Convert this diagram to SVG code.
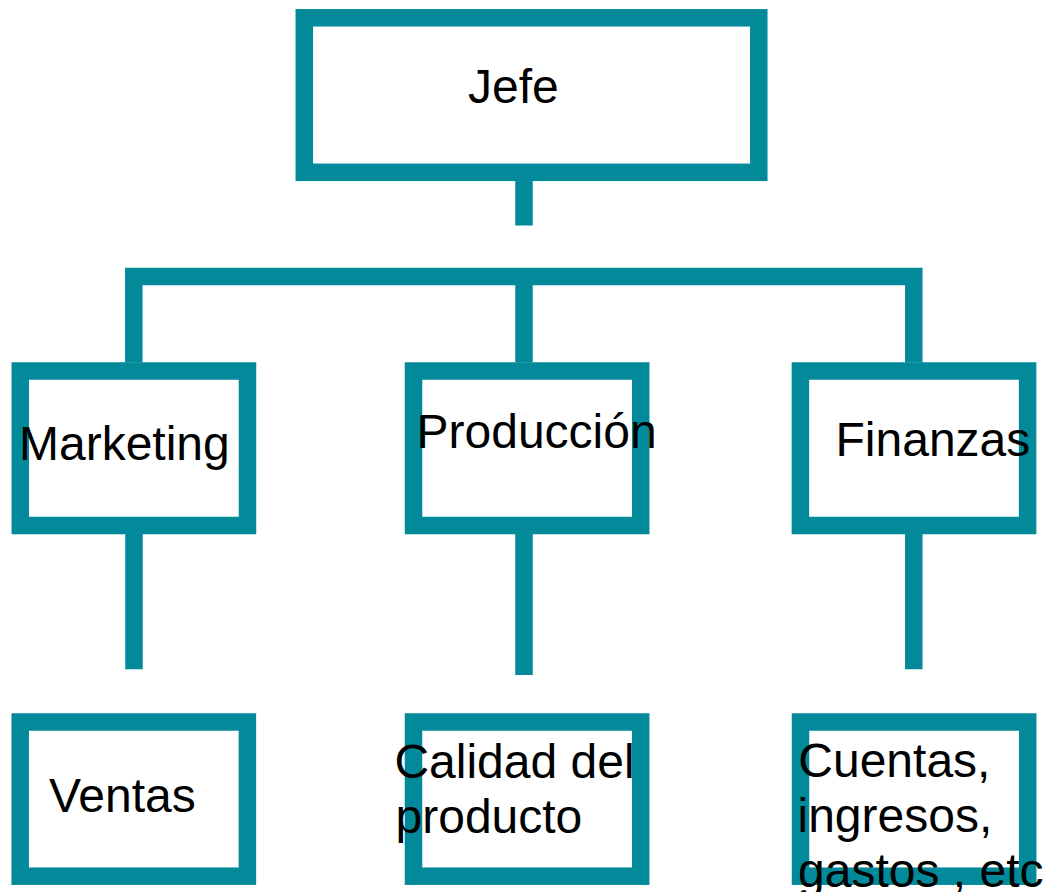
<svg xmlns="http://www.w3.org/2000/svg" width="1051" height="892" viewBox="0 0 1051 892">
<style>
.box{fill:#fff;stroke:#028A9B;stroke-width:17.5}
.con{fill:none;stroke:#028A9B;stroke-width:17.5;stroke-linejoin:miter;stroke-linecap:butt}
.t{font-family:"Liberation Sans",Arial,sans-serif;font-size:48px;fill:#000}
</style>
<rect width="1051" height="892" fill="#fff"/>
<g id="connectors">
<path class="con" d="M524,181 V225.5"/>
<path class="con" d="M133.8,362.5 V276.4 H913.8 V362.5"/>
<path class="con" d="M524,276.4 V362.5"/>
<path class="con" d="M134,534 V669.3"/>
<path class="con" d="M524,534 V675"/>
<path class="con" d="M913.8,534 V669.3"/>
</g>
<g id="jefe">
<rect class="box" x="304.3" y="17.8" width="454.5" height="154.5"/>
<text class="t" x="468" y="103">Jefe</text>
</g>
<g id="marketing">
<rect class="box" x="20.3" y="371" width="227.2" height="154.5"/>
<text class="t" x="19" y="460">Marketing</text>
</g>
<g id="produccion">
<rect class="box" x="413.5" y="371" width="227.2" height="154.5"/>
<text class="t" x="416.5" y="447.7">Producción</text>
</g>
<g id="finanzas">
<rect class="box" x="800.4" y="371" width="227.2" height="154.5"/>
<text class="t" x="835.5" y="455.7">Finanzas</text>
</g>
<g id="ventas">
<rect class="box" x="20.2" y="722" width="227.2" height="154.2"/>
<text class="t" x="49" y="811.7">Ventas</text>
</g>
<g id="calidad">
<rect class="box" x="413.5" y="722" width="227.2" height="154.2"/>
<text class="t" x="394.4" y="778">Calidad del</text>
<text class="t" x="395.5" y="833">producto</text>
</g>
<g id="cuentas">
<rect class="box" x="800.5" y="722" width="227.2" height="154.2"/>
<text class="t" x="798.3" y="777">Cuentas,</text>
<text class="t" x="797.5" y="832">ingresos,</text>
<text class="t" x="798" y="887">gastos , etc</text>
</g>
</svg>
